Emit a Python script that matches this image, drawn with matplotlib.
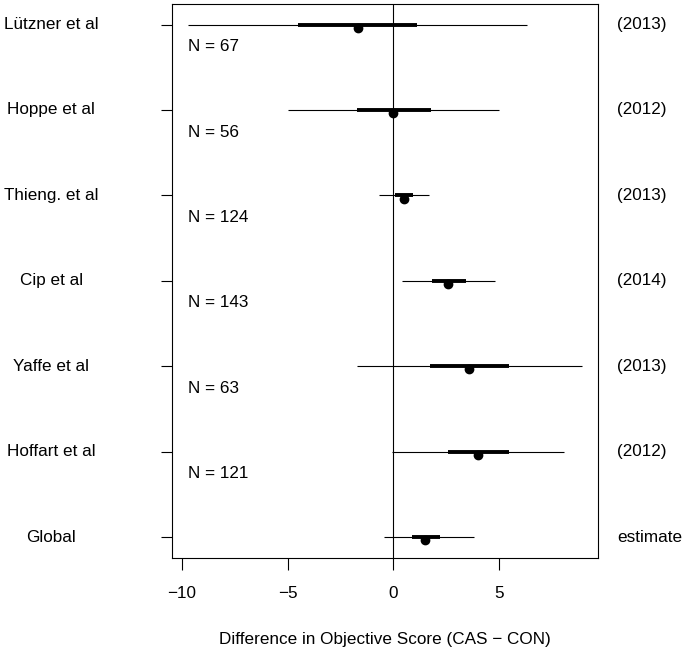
import matplotlib
matplotlib.use('Agg')
import matplotlib.pyplot as plt
import matplotlib.transforms as mtransforms
import numpy as np

plt.rcParams['font.family'] = ['Liberation Sans', 'DejaVu Sans']
plt.rcParams['font.size'] = 12.3

# Study data
studies = ['Lützner et al', 'Hoppe et al', 'Thieng. et al', 'Cip et al',
           'Yaffe et al', 'Hoffart et al', 'Global']
right_labels = ['(2013)', '(2012)', '(2013)', '(2014)', '(2013)', '(2012)', 'estimate']
n_labels = ['N = 67', 'N = 56', 'N = 124', 'N = 143', 'N = 63', 'N = 121', None]
estimate = [-1.69, 0.0, 0.51, 2.60, 3.60, 3.99, 1.50]
outer_lo = [-9.70, -4.97, -0.66, 0.40, -1.72, -0.05, -0.44]
outer_hi = [6.34, 5.00, 1.67, 4.84, 8.95, 8.08, 3.82]
inner_lo = [-4.50, -1.73, 0.08, 1.83, 1.75, 2.57, 0.90]
inner_hi = [1.11, 1.77, 0.95, 3.43, 5.48, 5.46, 2.19]

ypos = np.arange(len(studies), 0, -1)

fig = plt.figure(figsize=(6.85, 6.51), dpi=100)
ax = fig.add_axes([0.2515, 0.1436, 0.6208, 0.8502])

ax.axvline(0, color='black', lw=0.8, zorder=1)
ax.hlines(ypos, outer_lo, outer_hi, color='black', lw=0.8, zorder=2)
ax.hlines(ypos, inner_lo, inner_hi, color='black', lw=2.8, zorder=3)

# R draws the dot slightly below the line
dot_shift = mtransforms.offset_copy(ax.transData, fig=fig, x=0, y=-2.3, units='points')
ax.plot(estimate, ypos, 'o', color='black', ms=6, transform=dot_shift, zorder=4)

xmin = min(outer_lo)
for y, lab in zip(ypos, n_labels):
    if lab:
        ax.text(xmin, y - 0.26, lab, ha='left', va='center')

left_tr = mtransforms.blended_transform_factory(fig.transFigure, ax.transData)
for y, lab in zip(ypos, studies):
    ax.text(0.075, y, lab, ha='center', va='center', transform=left_tr)
for y, lab in zip(ypos, right_labels):
    ax.text(0.901, y, lab, ha='left', va='center', transform=left_tr)

ax.set_xlim(-10.46, 9.67)
ax.set_ylim(0.76, 7.24)
ax.set_xticks([-10, -5, 0, 5])
ax.set_yticks(ypos)
ax.set_yticklabels([])
ax.tick_params(axis='x', direction='out', length=8.5, width=0.8, pad=12)
ax.tick_params(axis='y', direction='out', length=7.6, width=0.8)
for sp in ax.spines.values():
    sp.set_linewidth(0.8)

ax.set_xlabel('Difference in Objective Score (CAS − CON)', labelpad=22)

fig.savefig('out.png', dpi=100)
